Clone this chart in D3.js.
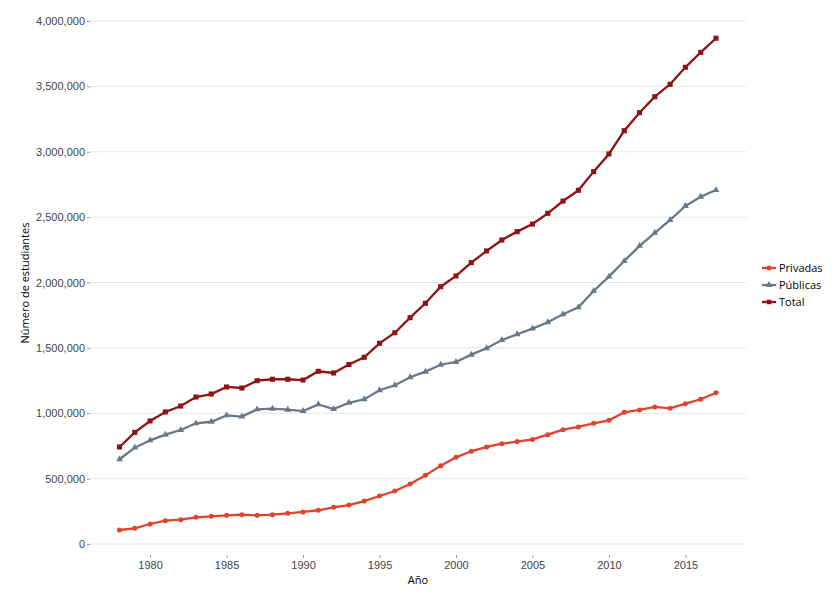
<!DOCTYPE html>
<html>
<head>
<meta charset="utf-8">
<script src="https://cdn.jsdelivr.net/npm/d3@7"></script>
<style>
  body { margin: 0; background: #fff; }
  svg { font-family: "Open Sans", "DejaVu Sans", sans-serif; }
</style>
</head>
<body>
<svg id="chart" width="839" height="594"></svg>
<script>
// años 1978-2017
const years = d3.range(1978, 2018);

const privadas = [107000, 120000, 153000, 178000, 186000, 204000, 212000, 219000, 224000, 219000,
  224000, 235000, 245000, 258000, 281000, 298000, 328000, 367000, 405000, 459000,
  525000, 599000, 663000, 709000, 742000, 767000, 783000, 800000, 836000, 874000,
  895000, 923000, 946000, 1007000, 1025000, 1048000, 1038000, 1073000, 1107000, 1157000];

const publicas = [648000, 737000, 793000, 836000, 872000, 923000, 935000, 984000, 974000, 1030000,
  1035000, 1027000, 1017000, 1068000, 1032000, 1080000, 1107000, 1176000, 1214000, 1275000,
  1318000, 1371000, 1392000, 1448000, 1497000, 1560000, 1604000, 1647000, 1696000, 1757000,
  1810000, 1935000, 2045000, 2164000, 2280000, 2380000, 2478000, 2585000, 2656000, 2707000];

const total = [742000, 854000, 941000, 1010000, 1055000, 1124000, 1147000, 1201000, 1193000, 1249000,
  1260000, 1260000, 1254000, 1321000, 1308000, 1373000, 1428000, 1535000, 1616000, 1731000,
  1841000, 1968000, 2050000, 2152000, 2241000, 2325000, 2389000, 2447000, 2529000, 2623000,
  2705000, 2848000, 2983000, 3161000, 3299000, 3421000, 3516000, 3646000, 3760000, 3868000];

const seriesNames = ["Privadas", "Públicas", "Total"];
const yTicks = [0, 500000, 1000000, 1500000, 2000000, 2500000, 3000000, 3500000, 4000000];
const xTicks = [1980, 1985, 1990, 1995, 2000, 2005, 2010, 2015];

const colors = { "Privadas": "#e0432b", "Públicas": "#68778a", "Total": "#8f1313" };
const symbols = { "Privadas": d3.symbolCircle, "Públicas": d3.symbolTriangle, "Total": d3.symbolSquare };

const series = [
  { name: "Privadas", values: privadas },
  { name: "Públicas", values: publicas },
  { name: "Total", values: total }
];

const svg = d3.select("#chart");

const xScale = d3.scaleLinear().domain([1978, 2017]).range([119.5, 716]);
const yScale = d3.scaleLinear().domain([0, 4000000]).range([544, 21]);

// grid
svg.append("g")
  .selectAll("line")
  .data(yTicks)
  .join("line")
  .attr("x1", 90).attr("x2", 746)
  .attr("y1", d => yScale(d)).attr("y2", d => yScale(d))
  .attr("stroke", "#e6e6e6")
  .attr("stroke-width", 1);

// y axis
const yAxis = d3.axisLeft(yScale).tickValues(yTicks).tickSize(3).tickPadding(2)
  .tickFormat(d3.format(","));
svg.append("g")
  .attr("transform", "translate(90,0)")
  .call(yAxis)
  .call(g => g.select(".domain").remove())
  .call(g => g.selectAll(".tick line").attr("stroke", "#999"))
  .call(g => g.selectAll(".tick text").attr("fill", "#444").style("font-size", "11px"));

// x axis
const xAxis = d3.axisBottom(xScale).tickValues(xTicks).tickSize(3).tickPadding(3)
  .tickFormat(d3.format("d"));
svg.append("g")
  .attr("transform", "translate(0,555)")
  .call(xAxis)
  .call(g => g.select(".domain").remove())
  .call(g => g.selectAll(".tick line").attr("stroke", "#999"))
  .call(g => g.selectAll(".tick text").attr("fill", "#444").style("font-size", "11px"));

// titulos de ejes
svg.append("text")
  .attr("x", 418).attr("y", 584)
  .attr("text-anchor", "middle")
  .style("font-size", "11px")
  .text("Año");

svg.append("text")
  .attr("transform", "translate(29,283) rotate(-90)")
  .attr("text-anchor", "middle")
  .style("font-size", "11px")
  .text("Número de estudiantes");

const line = d3.line()
  .x((d, i) => xScale(years[i]))
  .y(d => yScale(d));

const gSeries = svg.append("g")
  .selectAll("g")
  .data(series)
  .join("g");

gSeries.append("path")
  .attr("d", d => line(d.values))
  .attr("fill", "none")
  .attr("stroke", d => colors[d.name])
  .attr("stroke-width", 2.3);

gSeries.each(function (s) {
  d3.select(this).selectAll("path.pt")
    .data(s.values)
    .join("path")
    .attr("class", "pt")
    .attr("transform", (d, i) => `translate(${xScale(years[i])},${yScale(d)})`)
    .attr("d", d3.symbol().type(symbols[s.name]).size(s.name === "Total" ? 26 : 20))
    .attr("fill", colors[s.name]);
});

// leyenda
const legend = svg.append("g").attr("transform", "translate(762,268)");
const item = legend.selectAll("g")
  .data(seriesNames)
  .join("g")
  .attr("transform", (d, i) => `translate(0,${i * 17})`);

item.append("line")
  .attr("x1", 0).attr("x2", 14)
  .attr("stroke", d => colors[d])
  .attr("stroke-width", 2.3);
item.append("path")
  .attr("transform", "translate(7,0)")
  .attr("d", d => d3.symbol().type(symbols[d]).size(20)())
  .attr("fill", d => colors[d]);
item.append("text")
  .attr("x", 17).attr("y", 4)
  .style("font-size", "11px")
  .text(d => d);
</script>
</body>
</html>
